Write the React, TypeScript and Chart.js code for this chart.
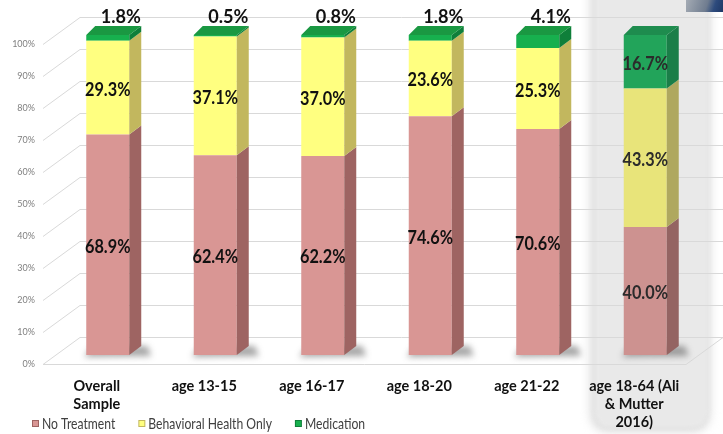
import { useEffect, useRef } from "react";
import { Chart, registerables } from "chart.js";

Chart.register(...registerables);

// Categories along the x axis (multi-line labels as arrays)
const categories: (string | string[])[] = [
  ["Overall", "Sample"],
  "age 13-15",
  "age 16-17",
  "age 18-20",
  "age 21-22",
  ["age 18-64 (Ali", "& Mutter", "2016)"],
];

// Share of each group (%)
const noTreatment = [68.9, 62.4, 62.2, 74.6, 70.6, 40.0];
const behavioralHealthOnly = [29.3, 37.1, 37.0, 23.6, 25.3, 43.3];
const medication = [1.8, 0.5, 0.8, 1.8, 4.1, 16.7];

const seriesNames = ["No Treatment", "Behavioral Health Only", "Medication"];

// Reference population shown on a shaded panel
const highlightedIndex = 5;

// Face colours: front, side, top for normal and shaded columns
const palette = [
  { front: "#D99694", side: "#9E6462", top: "#C98482", hFront: "#CD9290", hSide: "#946462", hTop: "#B98180" },
  { front: "#FFFF80", side: "#C2B75E", top: "#EDED70", hFront: "#E8E47A", hSide: "#AFA85F", hTop: "#D6D26C" },
  { front: "#17B04E", side: "#0F7F3A", top: "#1A9842", hFront: "#22A45A", hSide: "#1A7E48", hTop: "#1E8C4E" },
];

const DX = 12; // depth offset of bar side/top faces
const DY = -9;
const FLOOR_FRONT = 9; // front edge of the floor/gridlines below the value line
const WALL_BACK = -18; // back wall offset above the value line

// draws text squeezed horizontally (narrow face look)
function narrowText(ctx: CanvasRenderingContext2D, txt: string, x: number, y: number, sx: number) {
  ctx.save();
  ctx.translate(x, y);
  ctx.scale(sx, 1);
  ctx.fillText(txt, 0, 0);
  ctx.restore();
}

const depthPlugin = {
  id: "depth3d",
  beforeDraw(chart: any) {
    const { ctx, chartArea, scales } = chart;
    const y = scales.y;
    const x = scales.x;
    ctx.save();
    ctx.fillStyle = "#ffffff";
    ctx.fillRect(0, 0, chart.width, chart.height);

    // shaded panel behind the highlighted column
    const cx = x.getPixelForValue(highlightedIndex) + 5;
    ctx.filter = "blur(5px)";
    ctx.fillStyle = "#dcdcdc";
    roundRect(ctx, cx - 60, -30, 120, 462, 20);
    ctx.fill();
    ctx.filter = "blur(2px)";
    ctx.fillStyle = "#e9e9e9";
    roundRect(ctx, cx - 56, -30, 114, 458, 18);
    ctx.fill();
    ctx.filter = "none";

    // back wall gridlines with perspective leaders to the tick labels
    const left = chartArea.left;
    const frontX = left - 11;
    const backX = left + 26;
    ctx.strokeStyle = "#d9d9d9";
    ctx.lineWidth = 1;
    for (const t of y.ticks) {
      const py = Math.round(y.getPixelForValue(t.value)) + 0.5;
      ctx.beginPath();
      ctx.moveTo(frontX, py + FLOOR_FRONT);
      ctx.lineTo(backX, py + WALL_BACK);
      ctx.lineTo(chart.width, py + WALL_BACK);
      ctx.stroke();
    }
    // floor front edge
    const p0 = Math.round(y.getPixelForValue(0)) + 0.5;
    ctx.beginPath();
    ctx.moveTo(frontX, p0 + FLOOR_FRONT);
    ctx.lineTo(chart.width - 37, p0 + FLOOR_FRONT);
    ctx.lineTo(chart.width, p0 + WALL_BACK);
    ctx.stroke();
    ctx.restore();
  },
  beforeDatasetsDraw(chart: any) {
    const { ctx } = chart;
    const base = chart.getDatasetMeta(0);
    ctx.save();
    ctx.filter = "blur(3px)";
    ctx.fillStyle = "rgba(60,60,60,0.45)";
    base.data.forEach((el: any) => {
      const p = el.getProps(["x", "base", "width"], true);
      const l = p.x - p.width / 2;
      const r = p.x + p.width / 2;
      ctx.beginPath();
      ctx.moveTo(l - 2, p.base + 2);
      ctx.lineTo(r + DX + 10, p.base + 1);
      ctx.lineTo(r + DX + 6, p.base + DY);
      ctx.lineTo(l + 6, p.base + DY);
      ctx.closePath();
      ctx.fill();
    });
    ctx.restore();
  },
  afterDatasetsDraw(chart: any) {
    const { ctx } = chart;
    const n = chart.data.datasets.length;
    ctx.save();
    // side and top faces
    for (let d = 0; d < n; d++) {
      const meta = chart.getDatasetMeta(d);
      const col = palette[d];
      meta.data.forEach((el: any, i: number) => {
        const p = el.getProps(["x", "y", "base", "width"], true);
        const hl = i === highlightedIndex;
        const l = p.x - p.width / 2;
        const r = p.x + p.width / 2;
        const top = Math.min(p.y, p.base);
        const bot = Math.max(p.y, p.base);
        ctx.fillStyle = hl ? col.hSide : col.side;
        ctx.beginPath();
        ctx.moveTo(r, top);
        ctx.lineTo(r + DX, top + DY);
        ctx.lineTo(r + DX, bot + DY);
        ctx.lineTo(r, bot);
        ctx.closePath();
        ctx.fill();
        if (d === n - 1) {
          ctx.fillStyle = hl ? col.hTop : col.top;
          ctx.beginPath();
          ctx.moveTo(l, top);
          ctx.lineTo(l + DX - 3, top + DY);
          ctx.lineTo(r + DX, top + DY);
          ctx.lineTo(r, top);
          ctx.closePath();
          ctx.fill();
        }
      });
    }
    // value labels
    ctx.textAlign = "center";
    ctx.textBaseline = "middle";
    for (let d = 0; d < n; d++) {
      const meta = chart.getDatasetMeta(d);
      const values = chart.data.datasets[d].data as number[];
      meta.data.forEach((el: any, i: number) => {
        const p = el.getProps(["x", "y", "base"], true);
        const v = values[i];
        const txt = v.toFixed(1) + "%";
        ctx.fillStyle = i === highlightedIndex ? "#2b2b2b" : "#111111";
        if (v < 5) {
          ctx.font = "bold 19.5px Lato";
          narrowText(ctx, txt, p.x + 13, Math.min(p.y, p.base) + DY - 9, 0.93);
        } else {
          ctx.font = "bold 18.5px Lato";
          narrowText(ctx, txt, p.x, (p.y + p.base) / 2 + 2, 0.88);
        }
      });
    }
    ctx.restore();
  },
  afterDraw(chart: any) {
    const { ctx } = chart;
    ctx.save();
    // legend
    ctx.font = "16px Lato";
    ctx.textBaseline = "middle";
    ctx.textAlign = "left";
    const sx = 0.76;
    let lx = 32;
    const ly = 424;
    chart.data.datasets.forEach((ds: any, d: number) => {
      ctx.fillStyle = palette[d].side;
      ctx.fillRect(lx, ly - 4, 7, 7);
      ctx.fillStyle = palette[d].front;
      ctx.fillRect(lx + 1, ly - 3, 5, 5);
      ctx.fillStyle = "#404040";
      narrowText(ctx, ds.label, lx + 10, ly, sx);
      lx += 10 + ctx.measureText(ds.label).width * sx + 23;
    });
    // small overlay in the top-right corner
    const g = ctx.createLinearGradient(686, 0, 723, 12);
    g.addColorStop(0, "#a4abb4");
    g.addColorStop(0.55, "#6f7c8f");
    g.addColorStop(0.75, "#2d4b7d");
    g.addColorStop(1, "#1d3765");
    ctx.fillStyle = g;
    ctx.fillRect(686, 0, 37, 12);
    ctx.restore();
  },
};

function roundRect(ctx: CanvasRenderingContext2D, x: number, y: number, w: number, h: number, r: number) {
  ctx.beginPath();
  ctx.moveTo(x + r, y);
  ctx.lineTo(x + w - r, y);
  ctx.quadraticCurveTo(x + w, y, x + w, y + r);
  ctx.lineTo(x + w, y + h - r);
  ctx.quadraticCurveTo(x + w, y + h, x + w - r, y + h);
  ctx.lineTo(x + r, y + h);
  ctx.quadraticCurveTo(x, y + h, x, y + h - r);
  ctx.lineTo(x, y + r);
  ctx.quadraticCurveTo(x, y, x + r, y);
  ctx.closePath();
}

export default function App() {
  const ref = useRef<HTMLCanvasElement | null>(null);

  useEffect(() => {
    if (!ref.current) return;
    const seriesValues = [noTreatment, behavioralHealthOnly, medication];
    const chart = new Chart(ref.current, {
      type: "bar",
      data: {
        labels: categories,
        datasets: seriesValues.map((vals, d) => ({
          label: seriesNames[d],
          data: vals,
          backgroundColor: vals.map((_, i) =>
            i === highlightedIndex ? palette[d].hFront : palette[d].front
          ),
          borderWidth: 0,
          categoryPercentage: 1,
          barPercentage: 0.4,
        })),
      },
      options: {
        responsive: false,
        animation: false,
        events: [],
        layout: { padding: { top: 35, right: 24, left: 0, bottom: 0 } },
        plugins: {
          legend: { display: false },
          tooltip: { enabled: false },
        },
        scales: {
          x: {
            stacked: true,
            offset: true,
            grid: { display: false },
            border: { display: false },
            ticks: {
              autoSkip: false,
              maxRotation: 0,
              padding: 14,
              labelOffset: -11,
              color: "#111111",
              font: { family: "Lato", size: 14.5, weight: "bold", lineHeight: 1.25 },
            },
            afterFit: (s: any) => {
              s.height = 79;
            },
          },
          y: {
            stacked: true,
            min: 0,
            max: 100,
            grid: { display: false, drawTicks: false },
            border: { display: false },
            ticks: {
              stepSize: 10,
              padding: 19,
              labelOffset: FLOOR_FRONT,
              color: "#7f7f7f",
              font: { family: "Lato", size: 9 },
              callback: (v: any) => v + "%",
            },
            afterFit: (s: any) => {
              s.width = 54;
            },
          },
        },
      },
      plugins: [depthPlugin],
    });
    return () => chart.destroy();
  }, []);

  return (
    <div style={{ position: "fixed", left: 0, top: 0, width: 723, height: 434, background: "#fff" }}>
      <canvas ref={ref} width={723} height={434} style={{ display: "block" }} />
    </div>
  );
}
